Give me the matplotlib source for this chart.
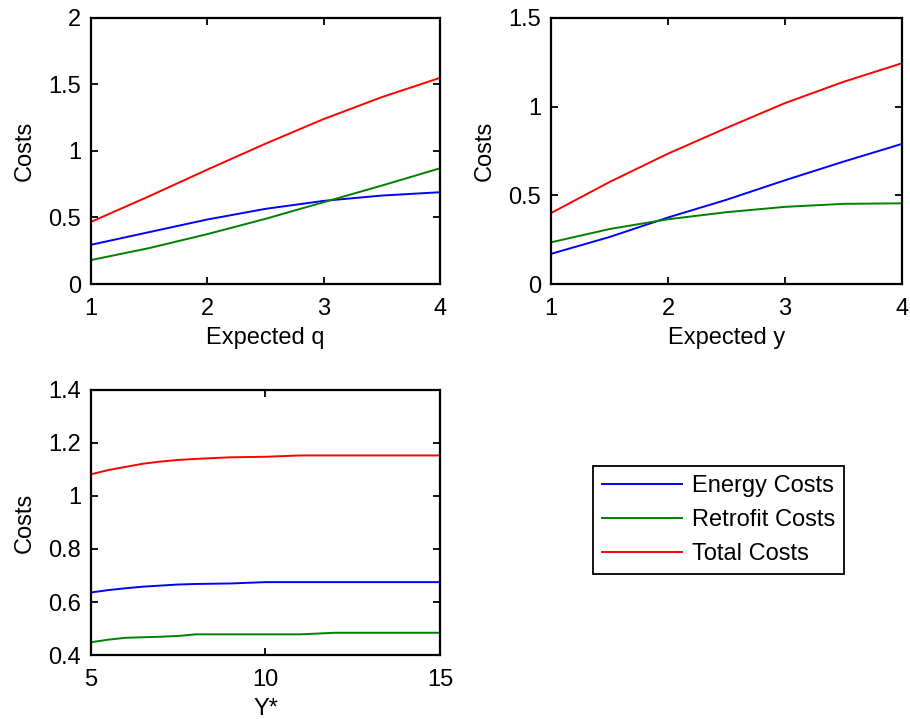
import matplotlib
matplotlib.use("Agg")
import matplotlib.pyplot as plt

plt.rcParams['font.family'] = ['Liberation Sans', 'DejaVu Sans']
plt.rcParams['font.size'] = 17

# Costs vs expected q
q_vals = [1.0, 1.5, 2.0, 2.5, 3.0, 3.5, 4.0]
q_energy = [0.295, 0.39, 0.485, 0.565, 0.625, 0.665, 0.69]
q_retrofit = [0.18, 0.27, 0.375, 0.49, 0.615, 0.74, 0.87]
q_total = [0.467, 0.66, 0.86, 1.055, 1.24, 1.405, 1.55]

# Costs vs expected y
y_vals = [1.0, 1.5, 2.0, 2.5, 3.0, 3.5, 4.0]
y_energy = [0.17, 0.265, 0.375, 0.475, 0.585, 0.69, 0.79]
y_retrofit = [0.235, 0.31, 0.365, 0.405, 0.435, 0.452, 0.455]
y_total = [0.40, 0.575, 0.735, 0.88, 1.02, 1.14, 1.245]

# Costs vs Y*
ystar_vals = [5, 5.5, 6, 6.5, 7, 7.5, 8, 9, 10, 11, 12, 13, 14, 15]
ystar_energy = [0.636, 0.645, 0.652, 0.658, 0.662, 0.666, 0.668, 0.670, 0.675, 0.675, 0.675, 0.675, 0.675, 0.675]
ystar_retrofit = [0.448, 0.458, 0.465, 0.467, 0.469, 0.472, 0.478, 0.478, 0.478, 0.478, 0.484, 0.484, 0.484, 0.484]
ystar_total = [1.082, 1.098, 1.11, 1.122, 1.13, 1.136, 1.14, 1.146, 1.148, 1.153, 1.153, 1.153, 1.153, 1.153]

series_names = ['Energy Costs', 'Retrofit Costs', 'Total Costs']
series_colors = ['#0000ff', '#008000', '#ff0000']

fig = plt.figure(figsize=(9.1, 7.19), dpi=100)


def style_axes(ax, xticks, xlabels, yticks, ylabels, xlabel):
    ax.set_xticks(xticks)
    ax.set_xticklabels(xlabels)
    ax.set_yticks(yticks)
    ax.set_yticklabels(ylabels)
    ax.set_xlim(xticks[0], xticks[-1])
    ax.set_ylim(yticks[0], yticks[-1])
    ax.set_xlabel(xlabel, labelpad=5)
    ax.set_ylabel('Costs', labelpad=9)
    ax.tick_params(direction='in', top=True, right=True, length=5, width=1.3)
    ax.tick_params(axis='x', pad=10)
    ax.tick_params(axis='y', pad=7)
    for sp in ax.spines.values():
        sp.set_linewidth(1.6)


ax1 = fig.add_axes([0.1, 0.605, 0.3835, 0.370])
for vals, c, name in zip([q_energy, q_retrofit, q_total], series_colors, series_names):
    ax1.plot(q_vals, vals, color=c, lw=1.4, label=name)
style_axes(ax1, [1, 2, 3, 4], ['1', '2', '3', '4'],
           [0, 0.5, 1, 1.5, 2], ['0', '0.5', '1', '1.5', '2'], 'Expected q')

ax2 = fig.add_axes([0.6055, 0.605, 0.3857, 0.370])
for vals, c in zip([y_energy, y_retrofit, y_total], series_colors):
    ax2.plot(y_vals, vals, color=c, lw=1.4)
style_axes(ax2, [1, 2, 3, 4], ['1', '2', '3', '4'],
           [0, 0.5, 1, 1.5], ['0', '0.5', '1', '1.5'], 'Expected y')

ax3 = fig.add_axes([0.1, 0.089, 0.3835, 0.3686])
for vals, c in zip([ystar_energy, ystar_retrofit, ystar_total], series_colors):
    ax3.plot(ystar_vals, vals, color=c, lw=1.4)
style_axes(ax3, [5, 10, 15], ['5', '10', '15'],
           [0.4, 0.6, 0.8, 1.0, 1.2, 1.4], ['0.4', '0.6', '0.8', '1', '1.2', '1.4'], 'Y*')

handles, labels = ax1.get_legend_handles_labels()
leg = fig.legend(handles, labels, loc='center', bbox_to_anchor=(0.7896, 0.2768),
                 fontsize=17, handlelength=3.4, handletextpad=0.4, labelspacing=0.5,
                 borderpad=0.4, fancybox=False, framealpha=1, edgecolor='black')
leg.get_frame().set_linewidth(1.3)

fig.savefig('out.png', dpi=100)
